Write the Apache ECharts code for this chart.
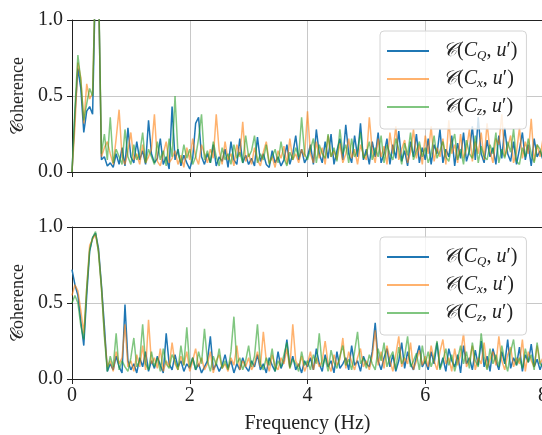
<!DOCTYPE html>
<html>
<head>
<meta charset="utf-8">
<script src="https://cdn.jsdelivr.net/npm/echarts@6/dist/echarts.min.js"></script>
<style>
html,body{margin:0;padding:0;background:#fff;}
#c{width:542px;height:435px;}
</style>
</head>
<body>
<div id="c"></div>
<script>
// frequency grid (Hz), step 0.05 from 0 to 8
const freqStep = 0.05;
const nPts = 161;
const freq = Array.from({length: nPts}, (_, i) => +(i * freqStep).toFixed(2));

const xTicks = [0, 2, 4, 6, 8];
const yTicks = [0.0, 0.5, 1.0];
const seriesNames = ['CQ', 'Cx', 'Cz'];

// top panel
const topCQ = [
0.00,0.38,0.68,0.55,0.26,0.40,0.43,0.38,1.30,1.25,0.08,0.10,0.04,0.06,0.03,0.12,0.05,0.16,0.04,0.29,
0.10,0.06,0.20,0.08,0.14,0.05,0.34,0.12,0.06,0.09,0.22,0.05,0.10,0.02,0.43,0.08,0.15,0.04,0.11,0.06,
0.02,0.09,0.32,0.36,0.10,0.05,0.12,0.06,0.18,0.04,0.10,0.07,0.15,0.03,0.20,0.08,0.05,0.22,0.06,0.11,
0.05,0.09,0.04,0.23,0.07,0.12,0.05,0.03,0.14,0.06,0.10,0.04,0.08,0.18,0.05,0.12,0.24,0.08,0.15,0.06,
0.10,0.18,0.05,0.28,0.12,0.06,0.20,0.09,0.25,0.05,0.14,0.22,0.08,0.31,0.12,0.06,0.24,0.10,0.32,0.08,
0.15,0.05,0.20,0.10,0.26,0.06,0.12,0.22,0.05,0.18,0.09,0.27,0.07,0.14,0.04,0.20,0.10,0.25,0.06,0.16,
0.08,0.22,0.05,0.18,0.12,0.28,0.06,0.15,0.10,0.24,0.04,0.19,0.09,0.26,0.07,0.14,0.30,0.08,0.36,0.12,
0.06,0.21,0.10,0.16,0.05,0.24,0.09,0.29,0.12,0.07,0.20,0.05,0.15,0.26,0.08,0.18,0.04,0.22,0.10,0.14,
0.08];
const topCx = [
0.00,0.30,0.72,0.62,0.32,0.58,0.48,0.52,1.30,1.25,0.10,0.16,0.20,0.12,0.05,0.22,0.41,0.10,0.05,0.14,
0.26,0.08,0.12,0.05,0.18,0.06,0.10,0.15,0.38,0.07,0.04,0.12,0.20,0.06,0.09,0.14,0.05,0.11,0.03,0.16,
0.08,0.22,0.10,0.05,0.18,0.12,0.06,0.15,0.09,0.38,0.14,0.05,0.20,0.08,0.12,0.04,0.18,0.10,0.33,0.07,
0.12,0.05,0.16,0.08,0.04,0.13,0.20,0.06,0.10,0.03,0.14,0.09,0.17,0.05,0.22,0.08,0.12,0.06,0.15,0.10,
0.40,0.12,0.06,0.20,0.09,0.16,0.05,0.24,0.10,0.14,0.08,0.19,0.06,0.12,0.22,0.09,0.15,0.05,0.18,0.11,
0.08,0.36,0.14,0.06,0.22,0.10,0.17,0.05,0.26,0.12,0.30,0.08,0.15,0.21,0.06,0.13,0.28,0.09,0.18,0.05,
0.24,0.12,0.30,0.07,0.16,0.10,0.22,0.05,0.34,0.12,0.18,0.06,0.25,0.09,0.15,0.28,0.07,0.20,0.12,0.26,
0.08,0.32,0.14,0.06,0.22,0.18,0.38,0.10,0.16,0.24,0.06,0.13,0.29,0.09,0.20,0.12,0.35,0.07,0.18,0.10,
0.22];
const topCz = [
0.00,0.42,0.77,0.60,0.34,0.45,0.55,0.50,1.35,1.30,0.12,0.25,0.08,0.36,0.06,0.15,0.10,0.05,0.28,0.10,
0.05,0.18,0.08,0.12,0.26,0.06,0.15,0.10,0.05,0.20,0.08,0.14,0.04,0.22,0.10,0.50,0.12,0.06,0.18,0.09,
0.15,0.05,0.10,0.22,0.38,0.08,0.14,0.06,0.20,0.10,0.04,0.16,0.08,0.12,0.05,0.18,0.09,0.13,0.06,0.24,
0.10,0.14,0.24,0.06,0.12,0.08,0.18,0.05,0.10,0.15,0.06,0.20,0.09,0.04,0.13,0.08,0.16,0.10,0.36,0.12,
0.08,0.15,0.22,0.06,0.18,0.12,0.09,0.25,0.10,0.16,0.07,0.28,0.12,0.18,0.06,0.22,0.10,0.14,0.26,0.09,
0.12,0.20,0.08,0.16,0.10,0.24,0.06,0.18,0.12,0.08,0.22,0.15,0.05,0.19,0.11,0.26,0.08,0.14,0.20,0.10,
0.16,0.06,0.12,0.24,0.09,0.14,0.20,0.10,0.07,0.18,0.25,0.08,0.15,0.05,0.21,0.12,0.09,0.24,0.06,0.17,
0.10,0.08,0.18,0.12,0.26,0.06,0.15,0.09,0.20,0.13,0.28,0.07,0.05,0.16,0.10,0.22,0.12,0.06,0.18,0.15,
0.09];

// bottom panel
const botCQ = [
0.72,0.62,0.55,0.38,0.22,0.55,0.84,0.93,0.96,0.86,0.62,0.35,0.05,0.10,0.06,0.15,0.08,0.04,0.49,0.12,
0.06,0.10,0.04,0.14,0.08,0.18,0.05,0.12,0.07,0.15,0.09,0.04,0.30,0.10,0.06,0.16,0.08,0.12,0.05,0.10,
0.07,0.14,0.06,0.10,0.04,0.08,0.12,0.28,0.06,0.10,0.05,0.09,0.16,0.07,0.12,0.04,0.10,0.06,0.14,0.08,
0.05,0.12,0.08,0.16,0.06,0.10,0.04,0.14,0.09,0.05,0.18,0.07,0.12,0.26,0.08,0.15,0.06,0.10,0.04,0.12,
0.08,0.14,0.06,0.20,0.10,0.05,0.16,0.08,0.12,0.04,0.18,0.07,0.10,0.14,0.06,0.22,0.09,0.12,0.05,0.15,
0.10,0.08,0.18,0.37,0.12,0.06,0.14,0.20,0.08,0.16,0.05,0.12,0.24,0.07,0.18,0.10,0.06,0.15,0.22,0.08,
0.12,0.06,0.18,0.10,0.24,0.07,0.14,0.05,0.20,0.12,0.08,0.16,0.04,0.22,0.10,0.14,0.06,0.19,0.09,0.25,
0.08,0.15,0.05,0.20,0.12,0.06,0.18,0.10,0.26,0.07,0.14,0.09,0.21,0.05,0.16,0.11,0.23,0.08,0.13,0.06,
0.12];
const botCx = [
0.55,0.62,0.58,0.45,0.30,0.60,0.88,0.92,0.95,0.84,0.60,0.30,0.08,0.12,0.05,0.18,0.10,0.14,0.36,0.08,
0.12,0.05,0.16,0.08,0.22,0.06,0.39,0.10,0.14,0.07,0.20,0.05,0.12,0.08,0.24,0.10,0.06,0.15,0.09,0.18,
0.05,0.12,0.20,0.08,0.14,0.06,0.10,0.18,0.04,0.12,0.16,0.07,0.10,0.05,0.14,0.09,0.22,0.06,0.12,0.08,
0.14,0.06,0.10,0.18,0.08,0.31,0.12,0.05,0.16,0.09,0.06,0.14,0.10,0.20,0.07,0.36,0.12,0.08,0.15,0.05,
0.10,0.18,0.06,0.14,0.08,0.12,0.25,0.10,0.05,0.16,0.09,0.13,0.27,0.07,0.18,0.11,0.06,0.14,0.20,0.08,
0.12,0.06,0.15,0.32,0.09,0.18,0.07,0.22,0.12,0.05,0.16,0.28,0.08,0.14,0.10,0.24,0.06,0.12,0.19,0.09,
0.15,0.08,0.22,0.12,0.06,0.18,0.26,0.10,0.14,0.05,0.20,0.09,0.16,0.30,0.08,0.12,0.22,0.06,0.14,0.10,
0.24,0.07,0.13,0.18,0.09,0.28,0.12,0.06,0.16,0.21,0.08,0.14,0.10,0.26,0.05,0.18,0.12,0.08,0.22,0.10,
0.14];
const botCz = [
0.50,0.55,0.50,0.35,0.26,0.60,0.85,0.93,0.97,0.83,0.60,0.28,0.05,0.15,0.08,0.30,0.06,0.12,0.08,0.05,
0.14,0.27,0.08,0.12,0.36,0.10,0.06,0.18,0.08,0.14,0.05,0.20,0.10,0.07,0.16,0.12,0.06,0.22,0.09,0.34,
0.08,0.14,0.06,0.18,0.10,0.33,0.12,0.05,0.15,0.09,0.20,0.07,0.12,0.06,0.18,0.41,0.10,0.14,0.06,0.12,
0.22,0.08,0.15,0.36,0.10,0.06,0.14,0.09,0.20,0.05,0.12,0.08,0.16,0.24,0.07,0.13,0.10,0.05,0.18,0.09,
0.12,0.06,0.16,0.10,0.30,0.08,0.14,0.05,0.19,0.11,0.07,0.15,0.22,0.09,0.13,0.06,0.18,0.31,0.10,0.14,
0.07,0.16,0.10,0.06,0.20,0.12,0.24,0.08,0.14,0.18,0.06,0.21,0.10,0.15,0.28,0.08,0.12,0.17,0.06,0.22,
0.10,0.18,0.08,0.14,0.25,0.06,0.12,0.20,0.09,0.16,0.05,0.13,0.22,0.10,0.18,0.07,0.24,0.12,0.08,0.30,
0.14,0.06,0.20,0.10,0.16,0.08,0.22,0.12,0.05,0.18,0.26,0.09,0.14,0.07,0.20,0.11,0.16,0.06,0.24,0.10,
0.08];

const colors = {CQ: '#1f77b4', Cx: 'rgba(255,127,14,0.6)', Cz: 'rgba(44,160,44,0.6)'};
const subs = {CQ: 'Q', Cx: 'x', Cz: 'z'};
const serif = 'Liberation Serif';

const chart = echarts.init(document.getElementById('c'), null, {renderer: 'canvas'});

function pairs(arr) { return freq.map((f, i) => [f, arr[i]]); }

const grids = [
  {left: 72, top: 20, width: 471, height: 152, outerBoundsMode: 'none', containLabel: false},
  {left: 72, top: 227, width: 471, height: 152, outerBoundsMode: 'none', containLabel: false}
];

function xAx(gi, labels) {
  return {
    type: 'value', gridIndex: gi, min: xTicks[0], max: xTicks[xTicks.length - 1], interval: 2,
    axisLine: {show: true, onZero: false, lineStyle: {color: '#222', width: 1}},
    axisTick: {show: true, length: 5, lineStyle: {color: '#222'}},
    axisLabel: {show: labels, fontFamily: serif, fontSize: 20, color: '#222', margin: 7},
    splitLine: {show: true, lineStyle: {color: '#c8c8c8', width: 1}},
    name: labels ? 'Frequency (Hz)' : '', nameLocation: 'middle', nameGap: 35,
    nameTextStyle: {fontFamily: serif, fontSize: 20, color: '#222'}
  };
}
function xTop(gi) {
  return {
    type: 'value', gridIndex: gi, position: 'top', min: 0, max: 8,
    axisLine: {show: true, onZero: false, lineStyle: {color: '#222', width: 1}},
    axisTick: {show: false}, axisLabel: {show: false}, splitLine: {show: false}
  };
}
function yAx(gi) {
  return {
    type: 'value', gridIndex: gi, min: yTicks[0], max: yTicks[yTicks.length - 1], interval: 0.5,
    axisLine: {show: true, onZero: false, lineStyle: {color: '#222', width: 1}},
    axisTick: {show: true, length: 5, lineStyle: {color: '#222'}},
    axisLabel: {fontFamily: serif, fontSize: 20, color: '#222', margin: 9, formatter: v => v.toFixed(1)},
    splitLine: {show: true, lineStyle: {color: '#c8c8c8', width: 1}},
    name: '𝒞oherence', nameLocation: 'middle', nameGap: 39, nameRotate: 90,
    nameTextStyle: {fontFamily: serif, fontSize: 18, color: '#222'}
  };
}

const richStyles = {
  s: {fontFamily: 'DejaVu Serif', fontStyle: 'italic', fontSize: 19, color: '#222', lineHeight: 22},
  n: {fontFamily: serif, fontSize: 20, color: '#222', lineHeight: 22},
  i: {fontFamily: serif, fontStyle: 'italic', fontSize: 20, color: '#222', lineHeight: 22},
  b: {fontFamily: serif, fontStyle: 'italic', fontSize: 13, color: '#222', lineHeight: 13, verticalAlign: 'bottom'}
};
function legend(top) {
  return {
    orient: 'vertical', left: 380, top: top, icon: 'rect', itemWidth: 42, itemHeight: 2, itemGap: 7,
    padding: [10, 9, 11, 7], backgroundColor: 'rgba(255,255,255,0.8)', borderColor: '#d4d4d4',
    borderWidth: 1, borderRadius: 4, data: seriesNames,
    formatter: n => '{n| }{s|𝒞}{n|(}{i|C}{b|' + subs[n] + '}{n|, }{i|u}{n|′)}',
    textStyle: {rich: richStyles, padding: [0, 0, 0, 4]}
  };
}

const data = [[topCQ, topCx, topCz], [botCQ, botCx, botCz]];
const series = [];
for (let g = 0; g < 2; g++) {
  seriesNames.forEach((nm, k) => {
    series.push({
      name: nm, type: 'line', xAxisIndex: g, yAxisIndex: g, symbol: 'none',
      data: pairs(data[g][k]), color: colors[nm], lineStyle: {width: 1.5, color: colors[nm]},
      clip: true, z: 2 + k
    });
  });
}

chart.setOption({
  animation: false,
  backgroundColor: '#fff',
  grid: grids,
  xAxis: [xAx(0, false), xAx(1, true), xTop(0), xTop(1)],
  yAxis: [yAx(0), yAx(1)],
  legend: [legend(31), legend(237)],
  series: series
});
</script>
</body>
</html>
